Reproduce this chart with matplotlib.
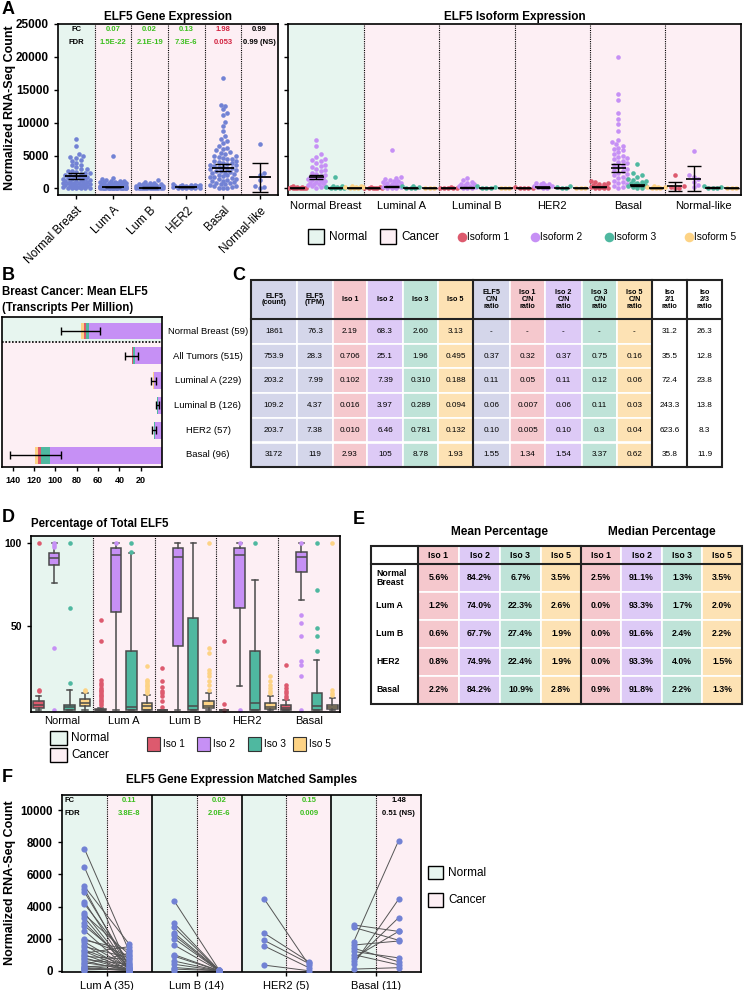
import numpy as np
import matplotlib.pyplot as plt
from matplotlib.patches import Rectangle

plt.rcParams['font.family'] = ['Liberation Sans', 'DejaVu Sans']

W, H = 746, 990

# ---------------- data ----------------
# A: ELF5 normalized counts per subtype
groups_a = ['Normal Breast', 'Lum A', 'Lum B', 'HER2', 'Basal', 'Normal-like']
groups_a_long = ['Normal Breast', 'Luminal A', 'Luminal B', 'HER2', 'Basal', 'Normal-like']
elf5_counts = [
    [7500, 6400, 5200, 4900, 4800, 4600, 4300, 4200, 3900, 3600, 3500, 3200, 3000, 2900, 2700,
     2600, 2500, 2400, 2300, 2200, 2100, 2000, 1900, 1800, 1750, 1700, 1600, 1500, 1450, 1400,
     1300, 1250, 1200, 1100, 1050, 1000, 950, 900, 850, 800, 750, 700, 650, 600, 550,
     500, 450, 400, 350, 300, 250, 200, 150, 120, 100, 80, 60, 40, 20],
    [4900, 1550, 1400, 1250, 1200, 1150, 1100, 1050, 1000, 950, 900, 850, 800, 750, 700, 650,
     600, 550, 500, 480, 450, 420, 400, 380, 350, 330, 300, 280, 260, 240, 220, 200, 180, 160,
     150, 140, 130, 120, 110, 100, 90, 80, 70, 60, 50, 40, 30, 20, 10, 5, 0, 0, 0, 0],
    [1300, 950, 900, 800, 700, 650, 600, 550, 500, 450, 400, 350, 300, 250, 200, 180, 150, 120,
     100, 80, 60, 50, 40, 30, 20, 10, 5, 0, 0, 0],
    [600, 550, 500, 480, 450, 400, 380, 350, 300, 280, 250, 200, 150, 100, 80, 50, 30, 10, 0],
    [16800, 12700, 12600, 12000, 11500, 11200, 10100, 9500, 8700, 8000, 7500, 7200, 6900, 6500,
     6200, 6000, 5800, 5600, 5400, 5200, 5000, 4900, 4800, 4600, 4500, 4400, 4200, 4100, 4000,
     3900, 3800, 3700, 3600, 3500, 3400, 3300, 3200, 3100, 3000, 2900, 2800, 2700, 2600, 2500,
     2400, 2300, 2200, 2100, 2000, 1900, 1800, 1700, 1600, 1500, 1400, 1300, 1200, 1100, 1000,
     900, 800, 700, 600, 500, 400, 300, 200, 100, 50, 0],
    [6700, 2300, 2000, 1300, 400, 200, 0],
]
elf5_mean = [1861, 203, 109, 204, 3172, 1680]
elf5_sem = [440, 60, 40, 50, 590, 2200]
fc_a = ['0.07', '0.02', '0.13', '1.98', '0.99']
fdr_a = ['1.5E-22', '2.1E-19', '7.3E-6', '0.053', '0.99 (NS)']
status_a = ['down', 'down', 'down', 'trend', 'ns']

# A right: isoform counts (isoform 1, 2, 3, 5) per subtype
iso1_pts = [[300, 250, 200, 150, 120, 100, 80, 60, 40, 20, 10, 0],
            [200, 150, 100, 60, 30, 10, 0, 0],
            [150, 100, 50, 20, 0, 0],
            [150, 100, 50, 20, 0],
            [1200, 1000, 900, 700, 600, 500, 400, 300, 200, 150, 100, 50, 20, 0],
            [2100, 400, 200, 100, 0]]
iso2_pts = [[7400, 6500, 5300, 4800, 4500, 4300, 4100, 3900, 3600, 3400, 3200, 3000, 2800, 2600,
             2400, 2200, 2000, 1900, 1800, 1700, 1600, 1500, 1400, 1300, 1200, 1100, 1000, 900,
             800, 700, 600, 500, 400, 300, 200, 100],
            [5900, 1800, 1600, 1400, 1300, 1200, 1100, 1000, 900, 800, 700, 600, 500, 400, 300,
             250, 200, 150, 100, 50, 0],
            [1600, 1300, 1000, 800, 700, 600, 500, 400, 300, 200, 100, 50, 0],
            [900, 800, 700, 600, 500, 400, 300, 200, 100, 0],
            [20000, 14300, 13500, 11400, 10600, 9800, 8800, 7400, 7000, 6800, 6500, 6200, 6000,
             5800, 5500, 5200, 5000, 4800, 4600, 4400, 4200, 4000, 3800, 3600, 3400, 3200, 3000,
             2800, 2600, 2400, 2200, 2000, 1800, 1600, 1400, 1200, 1000, 800, 600, 400, 200, 0],
            [5700, 2000, 1800, 1500, 1000, 500, 200]]
iso3_pts = [[1700, 400, 300, 200, 150, 100, 50, 20, 0],
            [400, 300, 200, 100, 50, 0],
            [300, 200, 100, 50, 0],
            [300, 200, 100, 0],
            [3700, 2300, 2100, 1800, 1500, 1300, 1200, 1000, 900, 800, 700, 600, 500, 400, 300,
             200, 100, 0],
            [300, 150, 100, 50, 0]]
iso5_pts = [[350, 300, 250, 200, 150, 100, 50, 0],
            [100, 50, 0],
            [100, 50, 0],
            [100, 50, 0],
            [300, 250, 200, 150, 100, 50, 0],
            [100, 50, 0]]
iso_mean = [[60, 30, 10, 10, 220, 350],
            [1780, 280, 130, 180, 3140, 1500],
            [50, 30, 20, 40, 450, 100],
            [60, 10, 10, 10, 50, 20]]
iso_sem = [[20, 10, 5, 5, 60, 700],
           [320, 60, 40, 40, 620, 1850],
           [30, 10, 10, 20, 120, 60],
           [20, 5, 5, 5, 20, 10]]

# B / C: mean ELF5 table
c_rows = ['Normal Breast (59)', 'All Tumors (515)', 'Luminal A (229)', 'Luminal B (126)',
          'HER2 (57)', 'Basal (96)']
c_headers = ['ELF5\n(count)', 'ELF5\n(TPM)', 'Iso 1', 'Iso 2', 'Iso 3', 'Iso 5',
             'ELF5\nC/N\nratio', 'Iso 1\nC/N\nratio', 'Iso 2\nC/N\nratio', 'Iso 3\nC/N\nratio',
             'Iso 5\nC/N\nratio', 'Iso\n2/1\nratio', 'Iso\n2/3\nratio']
elf5_count = ['1861', '753.9', '203.2', '109.2', '203.7', '3172']
elf5_tpm = ['76.3', '28.3', '7.99', '4.37', '7.38', '119']
iso1_tpm = ['2.19', '0.706', '0.102', '0.016', '0.010', '2.93']
iso2_tpm = ['68.3', '25.1', '7.39', '3.97', '6.46', '105']
iso3_tpm = ['2.60', '1.96', '0.310', '0.289', '0.781', '8.78']
iso5_tpm = ['3.13', '0.495', '0.188', '0.094', '0.132', '1.93']
elf5_cn = ['-', '0.37', '0.11', '0.06', '0.10', '1.55']
iso1_cn = ['-', '0.32', '0.05', '0.007', '0.005', '1.34']
iso2_cn = ['-', '0.37', '0.11', '0.06', '0.10', '1.54']
iso3_cn = ['-', '0.75', '0.12', '0.11', '0.3', '3.37']
iso5_cn = ['-', '0.16', '0.06', '0.03', '0.04', '0.62']
iso21_ratio = ['31.2', '35.5', '72.4', '243.3', '623.6', '35.8']
iso23_ratio = ['26.3', '12.8', '23.8', '13.8', '8.3', '11.9']
tpm_err = [18, 6, 2, 1.2, 1.6, 24]

# D: percentage of total ELF5, box stats (q1, med, q3, whislo, whishi) and outliers
groups_d = ['Normal', 'Lum A', 'Lum B', 'HER2', 'Basal']
iso_box = [
    [(1, 2.5, 5, 0, 8), (0, 0, 0.5, 0, 1), (0, 0, 0, 0, 0), (0, 0, 0, 0, 0), (0, 0.9, 2.5, 0, 6)],
    [(87, 91, 94, 76, 100), (59, 93, 97, 0, 100), (38, 91.6, 97, 0, 100), (61, 93, 97, 14, 100),
     (83, 91.8, 95, 66, 100)],
    [(0, 1.3, 3, 0, 12), (0, 1.7, 35, 0, 94), (0, 2.4, 55, 0, 100), (0, 4, 35, 0, 78),
     (0, 2.2, 10, 0, 30)],
    [(2, 4, 6.5, 0, 10), (0, 2, 4, 0, 9), (1, 2.2, 5, 0, 10), (0.5, 1.5, 4, 0, 8),
     (0.5, 1.3, 3, 0, 7)],
]
iso_out = [
    [[100, 12, 11], [54, 41, 18, 16, 15, 13, 12, 11, 10, 9, 8, 7, 6, 5, 4, 3],
     [25, 17, 13.5, 11, 10, 8, 5, 1.5], [41, 3.5, 0], [27, 15, 13, 11, 10, 8, 7]],
    [[100, 99, 98, 37, 0], [100], [], [100, 0], [100, 57, 52, 44, 29, 27, 20, 0]],
    [[100, 61, 16], [100, 95], [], [100], [100, 72, 49, 44, 35]],
    [[12, 11], [26, 18, 17, 16, 15, 14, 13, 12, 11, 10],
     [100, 37, 34, 24, 22, 20, 17, 15, 12], [20, 17, 15, 13, 11, 10], [100, 12, 10, 9]],
]

# E: mean / median percentage tables
e_rows = ['Normal\nBreast', 'Lum A', 'Lum B', 'HER2', 'Basal']
e_headers = ['Iso 1', 'Iso 2', 'Iso 3', 'Iso 5', 'Iso 1', 'Iso 2', 'Iso 3', 'Iso 5']
mean_pct = [['5.6%', '84.2%', '6.7%', '3.5%'],
            ['1.2%', '74.0%', '22.3%', '2.6%'],
            ['0.6%', '67.7%', '27.4%', '1.9%'],
            ['0.8%', '74.9%', '22.4%', '1.9%'],
            ['2.2%', '84.2%', '10.9%', '2.8%']]
median_pct = [['2.5%', '91.1%', '1.3%', '3.5%'],
              ['0.0%', '93.3%', '1.7%', '2.0%'],
              ['0.0%', '91.6%', '2.4%', '2.2%'],
              ['0.0%', '93.3%', '4.0%', '1.5%'],
              ['0.9%', '91.8%', '2.2%', '1.3%']]

# F: matched normal / cancer pairs
groups_f = ['Lum A (35)', 'Lum B (14)', 'HER2 (5)', 'Basal (11)']
f_normal = [
    [7600, 6450, 5250, 5100, 4900, 4300, 4150, 3600, 3500, 3300, 3000, 2800, 2500, 2000, 1900,
     1800, 1600, 1500, 1300, 1200, 1100, 1000, 900, 800, 700, 600, 500, 400, 300, 250, 200,
     150, 100, 50, 0],
    [4350, 2950, 2700, 2350, 2200, 2000, 1600, 1000, 900, 600, 400, 200, 100, 0],
    [4500, 2350, 1900, 1550, 350],
    [2850, 2700, 1800, 1600, 1400, 1200, 1000, 800, 600, 400, 100],
]
f_cancer = [
    [1200, 50, 1650, 20, 300, 10, 600, 100, 1000, 0, 200, 500, 40, 900, 1300, 150, 0, 800, 250,
     60, 1500, 5, 700, 30, 400, 0, 100, 1100, 20, 350, 10, 0, 80, 120, 0],
    [50, 30, 20, 20, 10, 10, 5, 5, 0, 0, 0, 0, 0, 0],
    [370, 560, 450, 190, 0],
    [2450, 1900, 8100, 1850, 560, 800, 370, 2450, 3300, 4450, 190],
]
fc_f = ['0.11', '0.02', '0.15', '1.48']
fdr_f = ['3.8E-8', '2.0E-6', '0.009', '0.51 (NS)']
status_f = ['down', 'down', 'down', 'ns']

# ---------------- style ----------------
MINT = '#e7f5ef'
PINK = '#fdeff4'
DOT = '#7282d4'
ISO_C = ['#dd5a6e', '#c690f5', '#4fb8a0', '#fdd385']
STATUS_COLOR = {'down': '#3cbf1e', 'trend': '#d2223f', 'ns': 'black'}
TAB_ELF = '#d4d6ea'
TAB_ISO = ['#f5c8cd', '#ddcaf6', '#bfe3d8', '#fde2b4']
DOTTED = (0, (1, 1))

fig = plt.figure(figsize=(W / 100, H / 100), dpi=100)


def add_ax(x0, y0, x1, y1):
    return fig.add_axes([x0 / W, 1 - y1 / H, (x1 - x0) / W, (y1 - y0) / H])


def swarm(vals, ppy, dot, maxw):
    # beeswarm offsets in pixels
    vals = np.asarray(vals, dtype=float)
    cands = [0.0] + [s * j * dot * 0.5 for j in range(1, 80) for s in (1, -1)
                     if j * dot * 0.5 <= maxw]
    offs = np.zeros(len(vals))
    placed = []
    for i in np.argsort(vals):
        yp = vals[i] * ppy
        best, best_d = 0.0, -1.0
        for off in cands:
            d = min((np.hypot(off - px, yp - py) for px, py in placed), default=1e9)
            if d >= dot * 0.95:
                best = off
                break
            if d > best_d:
                best_d, best = d, off
        offs[i] = best
        placed.append((best, yp))
    return offs


def style_spines(ax, lw=1.2):
    for s in ax.spines.values():
        s.set_linewidth(lw)
    ax.tick_params(width=1, length=3)


ov = fig.add_axes([0, 0, 1, 1])
ov.set_xlim(0, W)
ov.set_ylim(H, 0)
ov.axis('off')
ov.set_zorder(10)

# panel letters
for letter, x, y in [('A', 2, 9), ('B', 2, 275), ('C', 232, 276), ('D', 2, 517),
                     ('E', 353, 519), ('F', 2, 777)]:
    ov.text(x, y, letter, fontsize=13, fontweight='bold', ha='left', va='center')

# ---------------- A left ----------------
axA = add_ax(58, 24, 278, 195)
axA.set_xlim(-0.5, 5.5)
axA.set_ylim(-1000, 25000)
axA.axvspan(-0.5, 0.5, color=MINT, zorder=0)
axA.axvspan(0.5, 5.5, color=PINK, zorder=0)
for b in np.arange(0.5, 5):
    axA.axvline(b, color='k', lw=0.8, ls=DOTTED, zorder=1)
ppy_a = 171 / 26000
for i, vals in enumerate(elf5_counts):
    offs = swarm(vals, ppy_a, 4.4, 15)
    axA.scatter(i + offs / (220 / 6), vals, s=11, color=DOT, lw=0, zorder=3)
    axA.hlines(elf5_mean[i], i - 0.3, i + 0.3, color='k', lw=1.3, zorder=4)
    axA.errorbar(i, elf5_mean[i], yerr=elf5_sem[i], fmt='none', ecolor='k', elinewidth=1,
                 capsize=6, capthick=1, zorder=4)
axA.text(0, 0.965, 'FC', transform=axA.get_xaxis_transform(), ha='center', va='center',
         fontsize=5.5, fontweight='bold')
axA.text(0, 0.889, 'FDR', transform=axA.get_xaxis_transform(), ha='center', va='center',
         fontsize=5.5, fontweight='bold')
for i in range(5):
    c = STATUS_COLOR[status_a[i]]
    axA.text(i + 1, 0.965, fc_a[i], transform=axA.get_xaxis_transform(), ha='center',
             va='center', fontsize=5.5, fontweight='bold', color=c)
    axA.text(i + 1, 0.889, fdr_a[i], transform=axA.get_xaxis_transform(), ha='center',
             va='center', fontsize=5.5, fontweight='bold', color=c)
axA.set_yticks([0, 5000, 10000, 15000, 20000, 25000])
axA.set_yticklabels(['0', '5000', '10000', '15000', '20000', '25000'], fontsize=8.5,
                    fontweight='bold')
axA.set_xticks(range(6))
axA.set_xticklabels(groups_a, rotation=45, ha='right', rotation_mode='anchor', fontsize=8.5)
style_spines(axA)
axA.set_title('ELF5 Gene Expression', fontsize=8.5, fontweight='bold', pad=3)
ov.text(10, 108, 'Normalized RNA-Seq Count', rotation=90, ha='center', va='center',
        fontsize=9, fontweight='bold')

# ---------------- A right ----------------
axR = add_ax(288, 24, 741, 195)
axR.set_xlim(-0.5, 5.5)
axR.set_ylim(-1000, 25000)
axR.axvspan(-0.5, 0.5, color=MINT, zorder=0)
axR.axvspan(0.5, 5.5, color=PINK, zorder=0)
for b in np.arange(0.5, 5):
    axR.axvline(b, color='k', lw=0.8, ls=DOTTED, zorder=1)
sub = [-0.375, -0.125, 0.125, 0.375]
for j, pts in enumerate([iso1_pts, iso2_pts, iso3_pts, iso5_pts]):
    for g in range(6):
        offs = swarm(pts[g], ppy_a, 4.4, 9)
        axR.scatter(g + sub[j] + offs / 75.5, pts[g], s=11, color=ISO_C[j], lw=0, zorder=3)
        axR.hlines(iso_mean[j][g], g + sub[j] - 0.1, g + sub[j] + 0.1, color='k', lw=1.2,
                   zorder=4)
        axR.errorbar(g + sub[j], iso_mean[j][g], yerr=iso_sem[j][g], fmt='none', ecolor='k',
                     elinewidth=1, capsize=5, capthick=1, zorder=4)
axR.set_yticks([0, 5000, 10000, 15000, 20000, 25000])
axR.set_yticklabels([])
axR.set_xticks(range(6))
axR.set_xticklabels(groups_a_long, fontsize=8)
style_spines(axR)
axR.tick_params(axis='x', length=0, pad=4)
axR.set_title('ELF5 Isoform Expression', fontsize=8.5, fontweight='bold', pad=3)

# legend A
ov.add_patch(Rectangle((308, 229), 16, 15, facecolor=MINT, edgecolor='k', lw=1))
ov.text(329, 236.5, 'Normal', fontsize=8.5, va='center')
ov.add_patch(Rectangle((380, 229), 16, 15, facecolor=PINK, edgecolor='k', lw=1))
ov.text(401, 236.5, 'Cancer', fontsize=8.5, va='center')
for k, (xx, lab) in enumerate([(462, 'Isoform 1'), (535, 'Isoform 2'), (609, 'Isoform 3'),
                                (689, 'Isoform 5')]):
    ov.scatter([xx], [237], s=48, color=ISO_C[k], lw=0)
    ov.text(xx + 5, 237, lab, fontsize=7.3, va='center')

# ---------------- B ----------------
axB = add_ax(2, 317, 162, 467)
axB.set_xlim(150, 0)
axB.set_ylim(5.48, -0.565)
axB.axhspan(-0.565, 0.44, color=MINT, zorder=0)
axB.axhspan(0.44, 5.48, color=PINK, zorder=0)
axB.axhline(0.44, color='k', lw=1.2, ls=DOTTED, zorder=1)
rows_b = np.arange(6)
left = np.zeros(6)
for k, col in [(1, iso2_tpm), (2, iso3_tpm), (0, iso1_tpm), (3, iso5_tpm)]:
    v = np.array([float(x) for x in col])
    axB.barh(rows_b, v, left=left, height=0.68, color=ISO_C[k], lw=0, zorder=2)
    left = left + v
axB.errorbar(left, rows_b, xerr=tpm_err, fmt='none', ecolor='k', elinewidth=1, capsize=3,
             capthick=1, zorder=4)
axB.set_xticks([140, 120, 100, 80, 60, 40, 20])
axB.set_xticklabels(['140', '120', '100', '80', '60', '40', '20'], fontsize=6.5,
                    fontweight='bold')
axB.set_yticks([])
style_spines(axB)
ov.text(2, 292, 'Breast Cancer: Mean ELF5', fontsize=8.3, fontweight='bold', va='center')
ov.text(2, 308, '(Transcripts Per Million)', fontsize=8.3, fontweight='bold', va='center')

# ---------------- C table ----------------
cx = [251, 297, 333, 367, 403, 438, 473, 510, 545, 582, 617, 652, 687, 722]
cy = [280, 319, 343.7, 368.4, 393, 417.8, 442.5, 467]
c_cols = [elf5_count, elf5_tpm, iso1_tpm, iso2_tpm, iso3_tpm, iso5_tpm, elf5_cn, iso1_cn,
          iso2_cn, iso3_cn, iso5_cn, iso21_ratio, iso23_ratio]
c_fill = [TAB_ELF, TAB_ELF] + TAB_ISO + [TAB_ELF] + TAB_ISO + ['white', 'white']
for j in range(13):
    x0, x1 = cx[j], cx[j + 1]
    for r in range(7):
        y0, y1 = cy[r], cy[r + 1]
        ov.add_patch(Rectangle((x0, y0), x1 - x0, y1 - y0, facecolor=c_fill[j],
                               edgecolor='white', lw=1.2))
        if r == 0:
            ov.text((x0 + x1) / 2, (y0 + y1) / 2, c_headers[j], ha='center', va='center',
                    fontsize=5.2, fontweight='bold', linespacing=1.0)
        else:
            ov.text((x0 + x1) / 2, (y0 + y1) / 2, c_cols[j][r - 1], ha='center', va='center',
                    fontsize=5.9)
for r in range(6):
    ov.text(208, (cy[r + 1] + cy[r + 2]) / 2, c_rows[r], ha='center', va='center', fontsize=6.8)
ov.add_patch(Rectangle((cx[0], cy[0]), cx[-1] - cx[0], cy[-1] - cy[0], fill=False,
                       edgecolor='#222', lw=1.5))
ov.plot([cx[0], cx[-1]], [cy[1], cy[1]], color='#222', lw=1.5)
for xv in [cx[6], cx[11], cx[12]]:
    ov.plot([xv, xv], [cy[0], cy[-1]], color='#222', lw=1.5)

# ---------------- D ----------------
axD = add_ax(31, 536, 340, 712)
axD.set_xlim(-0.5, 4.5)
axD.set_ylim(-1.5, 104.5)
axD.axvspan(-0.5, 0.5, color=MINT, zorder=0)
axD.axvspan(0.5, 4.5, color=PINK, zorder=0)
for b in np.arange(0.5, 4):
    axD.axvline(b, color='k', lw=0.8, ls=DOTTED, zorder=1)
for j in range(4):
    stats = []
    for g in range(5):
        q1, med, q3, lo, hi = iso_box[j][g]
        stats.append(dict(q1=q1, med=med, q3=q3, whislo=lo, whishi=hi, fliers=iso_out[j][g]))
    axD.bxp(stats, positions=[g + sub[j] for g in range(5)], widths=0.17, patch_artist=True,
            manage_ticks=False,
            boxprops=dict(facecolor=ISO_C[j], edgecolor='#4a4a4a', lw=1.1),
            medianprops=dict(color='#4a4a4a', lw=1.1),
            whiskerprops=dict(color='#4a4a4a', lw=1.1),
            capprops=dict(color='#4a4a4a', lw=1.1),
            flierprops=dict(marker='o', markerfacecolor=ISO_C[j], markeredgecolor='none',
                            markersize=3.3))
axD.set_yticks([50, 100])
axD.set_yticklabels(['50', '100'], fontsize=7.5, fontweight='bold')
axD.set_xticks(range(5))
axD.set_xticklabels(groups_d, fontsize=8)
style_spines(axD)
axD.tick_params(axis='x', length=0, pad=3)
ov.text(31, 524, 'Percentage of Total ELF5', fontsize=8.3, fontweight='bold', va='center')

# legend D
ov.add_patch(Rectangle((50, 731), 17, 14, facecolor=MINT, edgecolor='k', lw=1))
ov.text(71, 738, 'Normal', fontsize=8.5, va='center')
ov.add_patch(Rectangle((50, 748), 17, 14, facecolor=PINK, edgecolor='k', lw=1))
ov.text(71, 755, 'Cancer', fontsize=8.5, va='center')
for k, (xx, lab) in enumerate([(147, 'Iso 1'), (197, 'Iso 2'), (248, 'Iso 3'), (293, 'Iso 5')]):
    ov.add_patch(Rectangle((xx, 737), 13, 14, facecolor=ISO_C[k], edgecolor='#333', lw=0.8))
    ov.text(xx + 16, 744, lab, fontsize=7.3, va='center')

# ---------------- E tables ----------------
ex = [371, 418, 459, 500, 541, 581, 621, 662, 702, 742]
ey = [546, 564, 592, 620, 648, 676, 704]
e_fill = ['white'] + TAB_ISO + TAB_ISO
for j in range(9):
    x0, x1 = ex[j], ex[j + 1]
    for r in range(6):
        y0, y1 = ey[r], ey[r + 1]
        ov.add_patch(Rectangle((x0, y0), x1 - x0, y1 - y0, facecolor=e_fill[j],
                               edgecolor='white', lw=1.2))
        if j == 0 and r > 0:
            ov.text(x0 + 5, (y0 + y1) / 2, e_rows[r - 1], ha='left', va='center', fontsize=6.3,
                    fontweight='bold', linespacing=1.1)
        elif r == 0 and j > 0:
            ov.text((x0 + x1) / 2, (y0 + y1) / 2, e_headers[j - 1], ha='center', va='center',
                    fontsize=6.3, fontweight='bold')
        elif j > 0:
            vals = mean_pct if j <= 4 else median_pct
            ov.text((x0 + x1) / 2, (y0 + y1) / 2, vals[r - 1][(j - 1) % 4], ha='center',
                    va='center', fontsize=6.3, fontweight='bold')
ov.add_patch(Rectangle((ex[0], ey[0]), ex[-1] - ex[0], ey[-1] - ey[0], fill=False,
                       edgecolor='#222', lw=1.5))
ov.plot([ex[0], ex[-1]], [ey[1], ey[1]], color='#222', lw=1.5)
for xv in [ex[1], ex[5]]:
    ov.plot([xv, xv], [ey[0], ey[-1]], color='#222', lw=1.5)
ov.text((ex[1] + ex[5]) / 2, 532, 'Mean Percentage', ha='center', va='center', fontsize=8.5,
        fontweight='bold')
ov.text((ex[5] + ex[9]) / 2, 532, 'Median Percentage', ha='center', va='center', fontsize=8.5,
        fontweight='bold')

# ---------------- F ----------------
axF = add_ax(62, 795, 421, 972)
axF.set_xlim(-0.5, 3.5)
axF.set_ylim(-80, 10950)
for g in range(4):
    axF.axvspan(g - 0.5, g, color=MINT, zorder=0)
    axF.axvspan(g, g + 0.5, color=PINK, zorder=0)
    axF.axvline(g, color='k', lw=0.8, ls=DOTTED, zorder=1)
    if g < 3:
        axF.axvline(g + 0.5, color='k', lw=1.2, zorder=1)
    for n, c in zip(f_normal[g], f_cancer[g]):
        axF.plot([g - 0.25, g + 0.25], [n, c], color='#555555', lw=0.7, zorder=2)
    axF.scatter([g - 0.25] * len(f_normal[g]), f_normal[g], s=20, color=DOT, lw=0, zorder=3)
    axF.scatter([g + 0.25] * len(f_cancer[g]), f_cancer[g], s=20, color=DOT, lw=0, zorder=3)
    col = STATUS_COLOR[status_f[g]]
    axF.text(g + 0.25, 0.967, fc_f[g], transform=axF.get_xaxis_transform(), ha='center',
             va='center', fontsize=5.5, fontweight='bold', color=col)
    axF.text(g + 0.25, 0.897, fdr_f[g], transform=axF.get_xaxis_transform(), ha='center',
             va='center', fontsize=5.5, fontweight='bold', color=col)
axF.text(-0.47, 0.967, 'FC', transform=axF.get_xaxis_transform(), ha='left', va='center',
         fontsize=5.5, fontweight='bold')
axF.text(-0.47, 0.897, 'FDR', transform=axF.get_xaxis_transform(), ha='left', va='center',
         fontsize=5.5, fontweight='bold')
axF.set_yticks([0, 2000, 4000, 6000, 8000, 10000])
axF.set_yticklabels(['0', '2000', '4000', '6000', '8000', '10000'], fontsize=8.3,
                    fontweight='bold')
axF.set_xticks(range(4))
axF.set_xticklabels(groups_f, fontsize=8)
style_spines(axF)
axF.set_title('ELF5 Gene Expression Matched Samples', fontsize=8.5, fontweight='bold', pad=9)
ov.text(10, 883, 'Normalized RNA-Seq Count', rotation=90, ha='center', va='center',
        fontsize=9, fontweight='bold')

# legend F
ov.add_patch(Rectangle((428, 866), 15, 13, facecolor=MINT, edgecolor='k', lw=1))
ov.text(448, 872.5, 'Normal', fontsize=8.5, va='center')
ov.add_patch(Rectangle((428, 893), 15, 14, facecolor=PINK, edgecolor='k', lw=1))
ov.text(448, 900, 'Cancer', fontsize=8.5, va='center')

fig.savefig('out.png', dpi=100)
